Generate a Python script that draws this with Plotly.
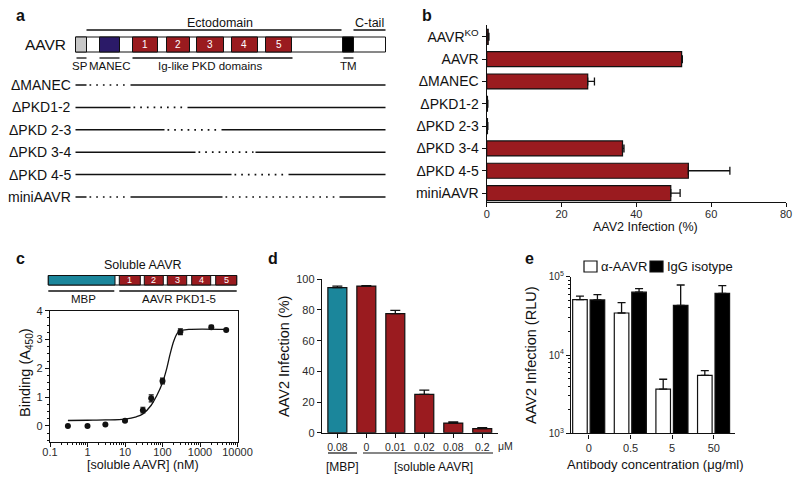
import plotly.graph_objects as go

W, H = 800, 481
FONT = "Liberation Sans, Arial, Helvetica, sans-serif"
RED = "#9a1b1f"
TEAL = "#1b869b"
PURPLE = "#2b1a68"
SPGRAY = "#c8c8c8"
INK = "#111111"
TICK = "#2a2a2a"

# ---------------- data ----------------
# panel a: schematic domains of AAVR (construct units, full length 310)
a_length = 310
a_domains = [("SP", 0, 11, SPGRAY, ""), ("MANEC", 24, 44, PURPLE, ""),
             ("PKD1", 57, 82, RED, "1"), ("PKD2", 91, 114, RED, "2"),
             ("PKD3", 121, 148, RED, "3"), ("PKD4", 156, 182, RED, "4"),
             ("PKD5", 190, 216, RED, "5"), ("TM", 267, 278, "#000000", "")]
a_constructs = ["ΔMANEC", "ΔPKD1-2", "ΔPKD 2-3", "ΔPKD 3-4", "ΔPKD 4-5", "miniAAVR"]
a_deletions = [[(11, 55)], [(55, 112)], [(89, 146)], [(120, 180)], [(156, 213)],
               [(11, 55), (147, 264)]]

# panel b
b_labels = ["AAVR<sup>KO</sup>", "AAVR", "ΔMANEC", "ΔPKD1-2", "ΔPKD 2-3",
            "ΔPKD 3-4", "ΔPKD 4-5", "miniAAVR"]
b_values = [0.4, 52.1, 27.0, 0.2, 0.2, 36.3, 53.9, 49.2]
b_errors = [0.2, 0.2, 1.8, 0.1, 0.1, 0.4, 11.1, 2.5]

# panel c
c_domains = [("MBP", 0, 66.7, TEAL, ""), ("1", 71, 92, RED, "1"), ("2", 96, 115, RED, "2"),
             ("3", 119, 138.4, RED, "3"), ("4", 143.4, 162.4, RED, "4"),
             ("5", 167.4, 188.4, RED, "5")]
c_length = 188.4
c_conc = [0.3, 1, 3, 10, 30, 50, 100, 300, 2000, 5000]
c_binding = [0.0, 0.0, 0.05, 0.18, 0.55, 0.96, 1.56, 3.27, 3.43, 3.33]
c_binding_err = [0.0, 0.0, 0.0, 0.03, 0.1, 0.12, 0.1, 0.1, 0.06, 0.0]
c_fit_x = [0.3, 1, 3, 10, 20, 30, 50, 70, 100, 130, 160, 200, 250, 300, 500, 5000]
c_fit_y = [0.19, 0.2, 0.21, 0.24, 0.32, 0.42, 0.72, 1.05, 1.5, 2.0, 2.5, 2.95, 3.22, 3.31, 3.35, 3.35]

# panel d
d_ticklabels = ["0.08", "0", "0.01", "0.02", "0.08", "0.2"]
d_values = [94.6, 95.6, 77.6, 25.0, 6.3, 2.6]
d_errors = [1.0, 0.3, 2.2, 2.8, 0.7, 0.7]
d_colors = [TEAL, RED, RED, RED, RED, RED]

# panel e
e_conc = ["0", "0.5", "5", "50"]
e_anti = [51000, 34400, 3670, 5480]
e_anti_err = [5600, 12300, 1230, 820]
e_iso = [50500, 63400, 43100, 61400]
e_iso_err = [8700, 7100, 35200, 15500]


def X(px):
    return px / W


def Y(py):
    return 1 - py / H


fig = go.Figure()
shapes = []
ann = []


def text(x, y, s, size, color=INK, xanchor="center", yanchor="middle", angle=0, bold=False):
    if bold:
        s = "<b>" + s + "</b>"
    ann.append(dict(x=X(x), y=Y(y), xref="paper", yref="paper", text=s, showarrow=False,
                    xanchor=xanchor, yanchor=yanchor, textangle=angle, borderpad=0,
                    font=dict(size=size, color=color, family=FONT)))


def line(x0, y0, x1, y1, width=1.3, dash=None, color=INK):
    d = dict(type="line", xref="paper", yref="paper", x0=X(x0), y0=Y(y0), x1=X(x1), y1=Y(y1),
             line=dict(color=color, width=width))
    if dash:
        d["line"]["dash"] = dash
    shapes.append(d)


def rect(x0, y0, x1, y1, fill, lw=1.0):
    shapes.append(dict(type="rect", xref="paper", yref="paper", x0=X(x0), y0=Y(y0),
                       x1=X(x1), y1=Y(y1), fillcolor=fill, line=dict(color=INK, width=lw)))


# ---------------- panel a (schematic) ----------------
A0 = 75.5
text(20, 15, "a", 16, bold=True)
text(220, 23, "Ectodomain", 12.5)
text(369, 23, "C-tail", 12.5)
line(A0 + 11, 30, A0 + 266, 30)
line(A0 + 278, 30, A0 + a_length, 30)
rect(A0, 37, A0 + a_length, 52, "white")
for name, s, e, col, lab in a_domains:
    rect(A0 + s, 37, A0 + e, 52, col)
    if lab:
        text(A0 + (s + e) / 2, 44.5, lab, 10, color="white")
text(67, 45, "AAVR", 15.5, xanchor="right")
line(A0 + 1, 58, A0 + 11, 58)
line(A0 + 24, 58, A0 + 44, 58)
line(A0 + 57, 58, A0 + 217, 58)
line(A0 + 268, 58, A0 + 278, 58)
text(79.5, 66, "SP", 11.5)
text(110, 66, "MANEC", 11.5)
text(210, 66, "Ig-like PKD domains", 11.5)
text(348.5, 66, "TM", 11.5)
for i, (name, dels) in enumerate(zip(a_constructs, a_deletions)):
    y = 85 + 22.4 * i
    text(72, y, name, 14, xanchor="right")
    start = 0
    for s, e in dels:
        line(A0 + start, y, A0 + s, y, width=1.5)
        line(A0 + s + 3, y, A0 + e - 2, y, width=1.7, dash="1.7px,5px")
        start = e
    line(A0 + start, y, A0 + a_length, y, width=1.5)

# ---------------- panel b ----------------
text(427, 15, "b", 16, bold=True)
fig.add_trace(go.Bar(
    x=b_values, y=b_labels, orientation="h", width=0.67,
    marker=dict(color=RED, line=dict(color=INK, width=1.2)),
    error_x=dict(type="data", array=b_errors, arrayminus=[0] * len(b_errors), symmetric=False,
                 color=INK, thickness=1.3, width=4),
    xaxis="x", yaxis="y"))
text(645, 227, "AAV2 Infection (%)", 12.5)

# ---------------- panel c ----------------
text(20, 258, "c", 16, bold=True)
text(143, 265, "Soluble AAVR", 12.5)
C0 = 48.3
rect(C0, 275.5, C0 + c_length, 285, "white")
for name, s, e, col, lab in c_domains:
    rect(C0 + s, 275.5, C0 + e, 285, col)
    if lab:
        text(C0 + (s + e) / 2, 280.3, lab, 9, color="white")
line(C0, 291, C0 + 66, 291)
line(C0 + 71, 291, C0 + c_length, 291)
text(83, 298.5, "MBP", 11.5)
text(179, 298.5, "AAVR PKD1-5", 11.5)
fig.add_trace(go.Scatter(
    x=c_fit_x, y=c_fit_y, mode="lines", line=dict(color=INK, width=1.3, shape="spline"),
    xaxis="x2", yaxis="y2", hoverinfo="skip"))
fig.add_trace(go.Scatter(
    x=c_conc, y=c_binding, mode="markers", marker=dict(color=INK, size=6),
    error_y=dict(type="data", array=c_binding_err, color=INK, thickness=1.2, width=2.5),
    xaxis="x2", yaxis="y2"))
text(143, 465, "[soluble AAVR] (nM)", 12.5)
text(26, 373, "Binding (A<sub>450</sub>)", 14.5, angle=-90)

# ---------------- panel d ----------------
text(273, 258, "d", 16, bold=True)
fig.add_trace(go.Bar(
    x=list(range(len(d_values))), y=d_values, width=0.655,
    marker=dict(color=d_colors, line=dict(color=INK, width=1.2)),
    error_y=dict(type="data", array=d_errors, arrayminus=[0] * len(d_errors), symmetric=False,
                 color=INK, thickness=1.3, width=5),
    xaxis="x3", yaxis="y3"))
text(505, 446, "μM", 10.5, color=TICK)
line(328, 453, 357, 453, width=1.2)
line(363, 453, 493, 453, width=1.2)
text(342, 467, "[MBP]", 12)
text(433, 467, "[soluble AAVR]", 12)
text(284, 357, "AAV2 Infection (%)", 14.5, angle=-90)

# ---------------- panel e ----------------
text(529, 258, "e", 16, bold=True)
fig.add_trace(go.Bar(
    x=e_conc, y=e_anti, width=0.35, offset=-0.39, name="α-AAVR",
    marker=dict(color="white", line=dict(color=INK, width=1.2)),
    error_y=dict(type="data", array=e_anti_err, arrayminus=[0] * 4, symmetric=False,
                 color=INK, thickness=1.3, width=4),
    xaxis="x4", yaxis="y4"))
fig.add_trace(go.Bar(
    x=e_conc, y=e_iso, width=0.35, offset=0.03, name="IgG isotype",
    marker=dict(color="#000000", line=dict(color=INK, width=1.2)),
    error_y=dict(type="data", array=e_iso_err, arrayminus=[0] * 4, symmetric=False,
                 color=INK, thickness=1.3, width=4),
    xaxis="x4", yaxis="y4"))
rect(584, 261, 597, 272, "white", lw=1.2)
text(600, 266, "α-AAVR", 13, xanchor="left")
rect(650, 261, 663, 272, "#000000", lw=1.2)
text(666, 266, "IgG isotype", 13, xanchor="left")
text(655, 464, "Antibody concentration (μg/ml)", 13)
text(531, 355, "AAV2 Infection (RLU)", 14.5, angle=-90)

# ---------------- axes ----------------
axis_common = dict(showline=True, linecolor=INK, linewidth=1.4, showgrid=False, zeroline=False,
                   ticks="outside", ticklen=4, tickwidth=1.2, tickcolor=INK, automargin=False)

fig.update_layout(
    template="none",
    width=W, height=H, autosize=False, margin=dict(l=0, r=0, t=0, b=0, pad=0),
    paper_bgcolor="white", plot_bgcolor="white", showlegend=False, barmode="group",
    font=dict(family=FONT, color=INK),
    shapes=shapes, annotations=ann,
    xaxis=dict(domain=[X(486.7), X(786)], range=[0, 80], anchor="y",
               tickvals=[0, 20, 40, 60, 80], tickfont=dict(size=11, color=TICK),
               ticklabelstandoff=-2, **axis_common),
    yaxis=dict(domain=[Y(202), Y(25)], type="category", categoryarray=b_labels,
               range=[7.4, -0.53], anchor="x", tickfont=dict(size=14, color=INK),
               **axis_common),
    xaxis2=dict(domain=[X(50), X(237.5)], type="log", range=[-1, 4], anchor="y2", mirror=True,
                tickvals=[0.1, 1, 10, 100, 1000, 10000],
                ticktext=["0.1", "1", "10", "100", "1000", "10000"],
                tickfont=dict(size=11, color=TICK), ticklabelstandoff=-4,
                minor=dict(ticks="outside", ticklen=2, tickcolor=INK, dtick="D1"),
                **axis_common),
    yaxis2=dict(domain=[Y(441.7), Y(310.7)], range=[-0.545, 4], anchor="x2", mirror=True,
                tickvals=[0, 1, 2, 3, 4], tickfont=dict(size=11, color=TICK),
                minor=dict(ticks="outside", ticklen=2, tickcolor=INK, dtick=0.25),
                **axis_common),
    xaxis3=dict(domain=[X(322), X(497.6)], range=[-0.53, 5.53], anchor="y3",
                tickvals=list(range(len(d_ticklabels))), ticktext=d_ticklabels,
                tickfont=dict(size=10.5, color=TICK), **axis_common),
    yaxis3=dict(domain=[Y(432.7), Y(279.3)], range=[0, 100], anchor="x3",
                tickvals=[0, 20, 40, 60, 80, 100], tickfont=dict(size=11, color=TICK),
                **axis_common),
    xaxis4=dict(domain=[X(571), X(735)], type="category", range=[-0.43, 3.51], anchor="y4",
                tickfont=dict(size=11, color=TICK), **axis_common),
    yaxis4=dict(domain=[Y(433.3), Y(276.7)], type="log", range=[3, 5], anchor="x4",
                tickvals=[1000, 10000, 100000],
                ticktext=["10<sup>3</sup>", "10<sup>4</sup>", "10<sup>5</sup>"],
                tickfont=dict(size=10, color=TICK),
                minor=dict(ticks="outside", ticklen=2, tickcolor=INK, dtick="D1"),
                **axis_common),
)

fig.write_html("out.html", config={"displayModeBar": False},
               post_script="document.body.style.margin='0px';document.body.style.overflow='hidden';")
